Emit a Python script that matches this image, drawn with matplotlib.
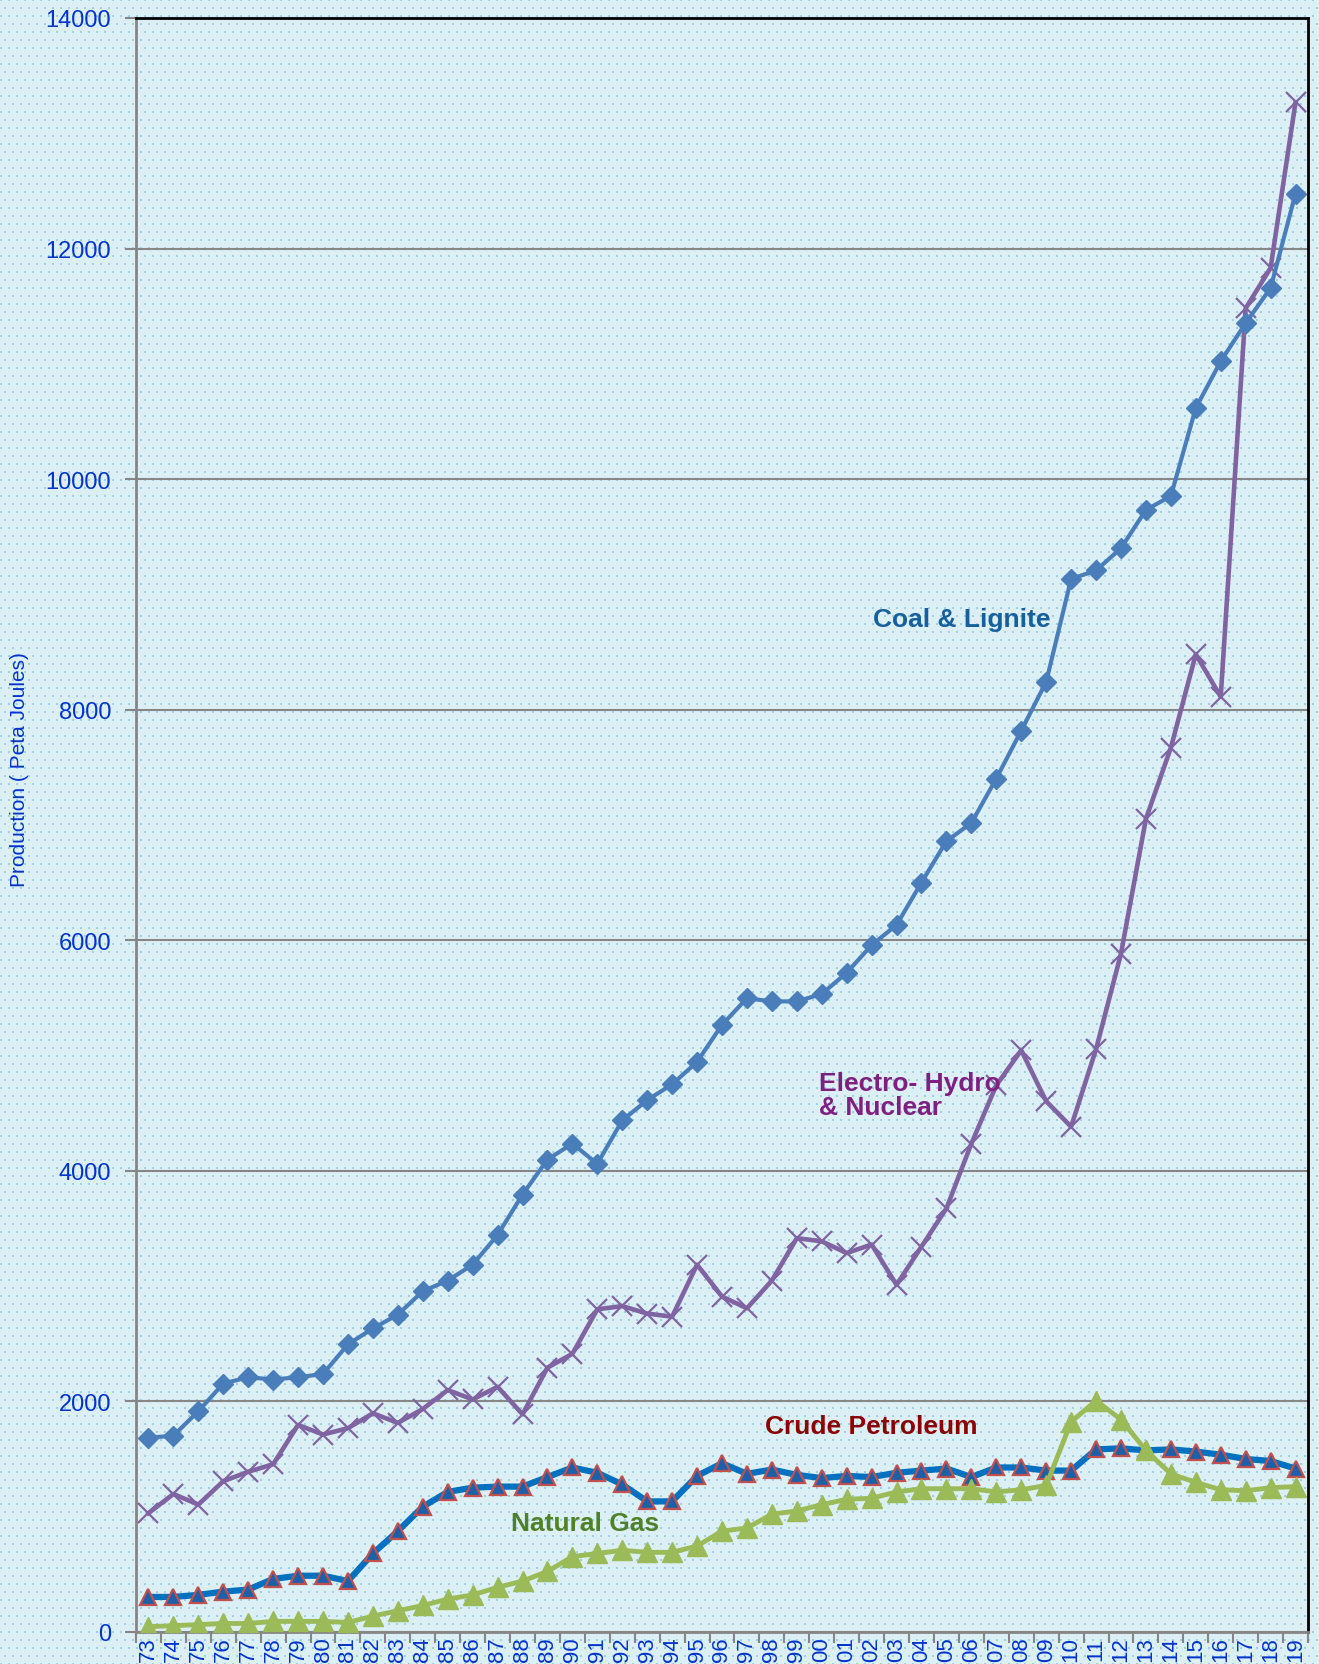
import numpy as np
import matplotlib
matplotlib.use("Agg")
import matplotlib.pyplot as plt

# anos 1973-2019, etiquetas de dos digitos
anios = list(range(1973, 2020))
etiquetas = [f"{a % 100:02d}" for a in anios]

carbon = [1685, 1703, 1915, 2155, 2210, 2190, 2210, 2238, 2495, 2633,
          2753, 2956, 3048, 3186, 3444, 3794, 4098, 4236, 4061, 4438,
          4613, 4751, 4945, 5267, 5497, 5470, 5470, 5534, 5718, 5958,
          6133, 6501, 6860, 7017, 7403, 7818, 8241, 9134, 9208, 9401,
          9733, 9853, 10617, 11022, 11354, 11657, 12477]
electro = [1031, 1197, 1105, 1308, 1390, 1455, 1796, 1713, 1768, 1897,
           1814, 1934, 2099, 2017, 2127, 1888, 2293, 2413, 2799, 2827,
           2762, 2735, 3186, 2910, 2808, 3048, 3416, 3389, 3287, 3361,
           3011, 3343, 3674, 4236, 4742, 5046, 4604, 4383, 5055, 5884,
           7053, 7670, 8481, 8112, 11482, 11832, 13269]
petroleo = [304, 304, 322, 350, 368, 460, 488, 488, 442, 681,
            875, 1087, 1215, 1252, 1261, 1261, 1344, 1427, 1381, 1280,
            1133, 1133, 1354, 1464, 1372, 1409, 1363, 1335, 1354, 1344,
            1381, 1400, 1418, 1344, 1427, 1427, 1400, 1400, 1584, 1593,
            1575, 1584, 1565, 1538, 1501, 1483, 1418]
gas = [46, 55, 64, 74, 74, 92, 92, 92, 83, 138,
       184, 230, 285, 322, 387, 442, 525, 654, 681, 709,
       691, 691, 746, 875, 902, 1022, 1050, 1105, 1151, 1160,
       1215, 1243, 1243, 1243, 1215, 1234, 1271, 1823, 2007, 1842,
       1575, 1372, 1298, 1234, 1225, 1252, 1261]

plt.rcParams['font.family'] = ['Liberation Sans', 'DejaVu Sans']

W, H = 1319, 1665
fig = plt.figure(figsize=(W / 100, H / 100), dpi=100)

# fondo celeste con puntos
fondo = np.zeros((H, W, 3))
fondo[:, :] = np.array([219, 239, 244]) / 255
punto = np.array([158, 208, 225]) / 255
for fila in range(0, H, 8):
    off = 0 if (fila // 8) % 2 == 0 else 4
    for dy in range(2):
        if fila + dy < H:
            fondo[fila + dy, off::8] = punto
            fondo[fila + dy, off + 1::8] = punto
fig.figimage(fondo, 0, 0, zorder=-1)
fig.patch.set_alpha(0)

ax = fig.add_axes([136 / W, 1 - 1633 / H, (1308 - 136) / W, (1633 - 19) / H])
ax.set_facecolor("none")

x = np.arange(len(anios))
ax.plot(x, carbon, color="#4a7ebb", lw=3, marker="D", ms=10, zorder=4)
ax.plot(x, electro, color="#8064a2", lw=3.3, marker="x", ms=15, mew=1.6, zorder=3)
ax.plot(x, petroleo, color="#0070c0", lw=4.5, marker="^", ms=11,
        mfc="#1f5fa8", mec="#c0504d", mew=1.6, zorder=3)
ax.plot(x, gas, color="#9bbb59", lw=3.5, marker="^", ms=15, zorder=3)

ax.set_xlim(-0.5, len(anios) - 0.5)
ax.set_ylim(0, 14000)
ax.set_yticks(range(0, 14001, 2000))
ax.grid(axis="y", color="#868686", lw=1.5, zorder=1)

ax.set_xticks(x)
ax.set_xticklabels(etiquetas, rotation=90, fontsize=16, color="#0033cc", va="top")
ax.set_xticks(np.arange(-0.5, len(anios)), minor=True)
ax.tick_params(axis="x", which="major", length=0, pad=3)
ax.tick_params(axis="x", which="minor", length=8, color="#868686", width=1.5)
ax.tick_params(axis="y", length=8, color="#868686", width=1.5, pad=10)
for t in ax.get_yticklabels():
    t.set_fontsize(17)
    t.set_color("#0033cc")

for lado in ["left", "bottom"]:
    ax.spines[lado].set_color("#868686")
    ax.spines[lado].set_linewidth(2)
for lado in ["top", "right"]:
    ax.spines[lado].set_color("black")
    ax.spines[lado].set_linewidth(2)

fig.text(20 / W, 1 - 770 / H, "Production ( Peta Joules)", rotation=90,
         fontsize=15, color="#0033cc", ha="center", va="center")

ax.text(32.6, 8785, "Coal & Lignite", fontsize=19, weight="bold",
        color="#17609e", ha="center", va="center")
ax.text(26.9, 4660, "Electro- Hydro\n& Nuclear", fontsize=19,
        weight="bold", color="#7f1f7f", ha="left", va="center", linespacing=1.0)
ax.text(29.0, 1786, "Crude Petroleum", fontsize=19, weight="bold",
        color="#8b0000", ha="center", va="center")
ax.text(17.5, 948, "Natural Gas", fontsize=19, weight="bold",
        color="#4f8228", ha="center", va="center")

fig.savefig("out.png", dpi=100)
